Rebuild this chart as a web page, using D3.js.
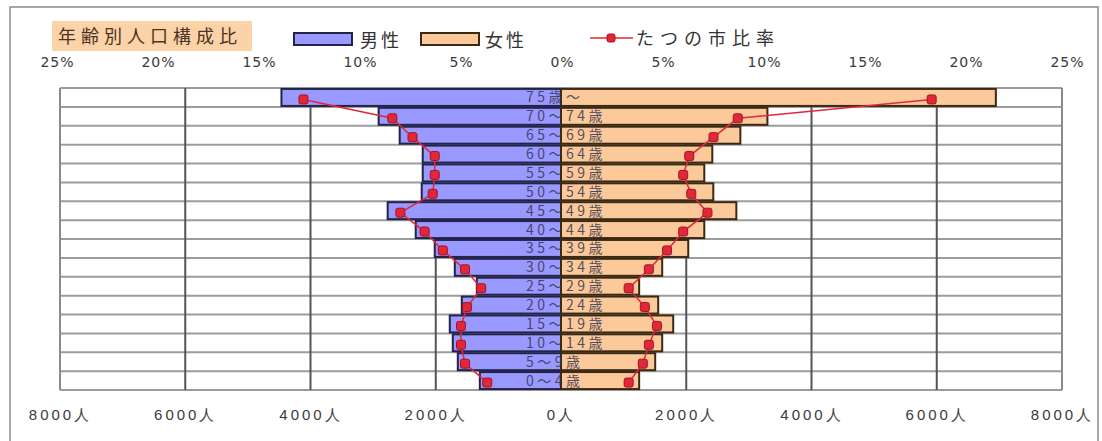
<!DOCTYPE html>
<html><head><meta charset="utf-8">
<script src="https://cdn.jsdelivr.net/npm/d3@7/dist/d3.min.js"></script>
<style>
html,body{margin:0;padding:0;background:#fff;}
svg{display:block;font-family:"Noto Sans CJK JP","Noto Sans",sans-serif;}
</style></head>
<body><svg id="c" width="1102" height="441"></svg>
<script>
const ages = ["75歳～","70～74歳","65～69歳","60～64歳","55～59歳","50～54歳","45～49歳","40～44歳","35～39歳","30～34歳","25～29歳","20～24歳","15～19歳","10～14歳","5～9歳","0～4歳"];
const male   = [4464,2912,2576,2208,2208,2224,2768,2320,2016,1696,1344,1584,1776,1728,1648,1296];
const female = [6944,3296,2864,2416,2288,2432,2800,2288,2032,1616,1248,1552,1792,1616,1504,1248];
const malePct   = [12.8,8.4,7.4,6.3,6.3,6.4,8.0,6.8,5.9,4.8,4.0,4.7,5.0,5.0,4.8,3.7];
const femalePct = [18.3,8.7,7.5,6.3,6.0,6.4,7.2,6.0,5.2,4.3,3.3,4.1,4.7,4.3,4.0,3.3];
const popTicks = [-8000,-6000,-4000,-2000,0,2000,4000,6000,8000];
const pctTicks = [-25,-20,-15,-10,-5,0,5,10,15,20,25];
const title = "年齢別人口構成比";
const legendNames = ["男性","女性","たつの市比率"];

const svg = d3.select("#c");
const X0 = 60, X1 = 1062, Y0 = 88, Y1 = 390;
const x = d3.scaleLinear().domain([-8000, 8000]).range([X0, X1]);
const xp = d3.scaleLinear().domain([-25, 25]).range([57, 1067]);
const y = d3.scaleBand().domain(ages).range([Y0, Y1]).paddingInner(0.1).paddingOuter(0.05);

// outer frame
svg.append("rect").attr("x",10).attr("y",7).attr("width",1088).attr("height",445)
  .attr("fill","none").attr("stroke","#8a8a8a").attr("stroke-width",1.5);

// grid
const g = svg.append("g");
d3.range(ages.length + 1).forEach(i => {
  const yy = Y0 + i * (Y1 - Y0) / ages.length;
  g.append("line").attr("x1",X0).attr("x2",X1).attr("y1",yy).attr("y2",yy)
    .attr("stroke","#9c9c9c").attr("stroke-width",2);
});
popTicks.forEach(t => {
  g.append("line").attr("x1",x(t)).attr("x2",x(t)).attr("y1",Y0).attr("y2",Y1)
    .attr("stroke", (t===-8000||t===8000) ? "#8a8a8a" : "#555").attr("stroke-width",2);
});

// bars
const bars = svg.append("g");
bars.selectAll(".m").data(ages).join("rect")
  .attr("x", (d,i) => x(-male[i])).attr("y", d => y(d))
  .attr("width", (d,i) => x(0) - x(-male[i])).attr("height", y.bandwidth())
  .attr("fill","#9999ff").attr("stroke","#23234a").attr("stroke-width",2);
bars.selectAll(".f").data(ages).join("rect")
  .attr("x", x(0)).attr("y", d => y(d))
  .attr("width", (d,i) => x(female[i]) - x(0)).attr("height", y.bandwidth())
  .attr("fill","#fcc99a").attr("stroke","#3a2a14").attr("stroke-width",2);

// category labels
svg.append("g").selectAll("text").data(ages).join("text")
  .attr("x", 526).attr("y", d => y(d) + y.bandwidth()/2 + 5)
  .attr("font-size", 14).attr("letter-spacing", 3.5)
  .attr("fill", "#35354f").attr("fill-opacity", 0.85)
  .text(d => d);

// ratio lines
const red = "#e0283a";
function drawLine(vals, sign) {
  const pts = vals.map((v,i) => [xp(sign*v), y(ages[i]) + y.bandwidth()/2 + 2]);
  svg.append("path").attr("d", d3.line()(pts)).attr("fill","none")
    .attr("stroke", red).attr("stroke-width", 1.5);
  svg.append("g").selectAll("rect").data(pts).join("rect")
    .attr("x", p => p[0]-4.5).attr("y", p => p[1]-4.5).attr("width",9).attr("height",9)
    .attr("rx",2).attr("fill", red).attr("stroke","#a81020").attr("stroke-width",1);
}
drawLine(malePct, -1);
drawLine(femalePct, 1);

// top axis (percent)
const axTop = d3.axisTop(xp).tickValues(pctTicks).tickSize(0)
  .tickFormat(d => Math.abs(d) + "%");
svg.append("g").attr("transform","translate(0,70)").call(axTop)
  .call(s => s.select(".domain").remove())
  .selectAll("text").attr("font-size",14).attr("letter-spacing",1).attr("fill","#3a3a3a")
  .attr("font-family","\"DejaVu Sans\",sans-serif").attr("dy",0);

// bottom axis (population)
const axBot = d3.axisBottom(x).tickValues(popTicks).tickSize(0)
  .tickFormat(d => Math.abs(d) + "人");
svg.append("g").attr("transform","translate(0,405)").call(axBot)
  .call(s => s.select(".domain").remove())
  .selectAll("text").attr("font-size",15).attr("letter-spacing",3).attr("fill","#3a3a3a")
  .attr("dy","0.8em");

// title box
svg.append("rect").attr("x",52).attr("y",21).attr("width",200).attr("height",30)
  .attr("fill","#fcd2a8");
svg.append("text").attr("x",58).attr("y",43).attr("font-size",18).attr("letter-spacing",5)
  .attr("fill","#4a3422").text(title);

// legend
const lg = svg.append("g");
lg.append("rect").attr("x",294).attr("y",33).attr("width",58).attr("height",12)
  .attr("fill","#9999ff").attr("stroke","#23234a").attr("stroke-width",2);
lg.append("text").attr("x",360).attr("y",47).attr("font-size",18).attr("letter-spacing",3)
  .attr("fill","#333").text(legendNames[0]);
lg.append("rect").attr("x",421).attr("y",33).attr("width",58).attr("height",12)
  .attr("fill","#fcc99a").attr("stroke","#3a2a14").attr("stroke-width",2);
lg.append("text").attr("x",485).attr("y",47).attr("font-size",18).attr("letter-spacing",3)
  .attr("fill","#333").text(legendNames[1]);
lg.append("line").attr("x1",590).attr("x2",633).attr("y1",38).attr("y2",38)
  .attr("stroke",red).attr("stroke-width",1.5);
lg.append("rect").attr("x",607).attr("y",34).attr("width",8).attr("height",8).attr("rx",2)
  .attr("fill",red).attr("stroke","#b01020");
lg.append("text").attr("x",636).attr("y",45).attr("font-size",18).attr("letter-spacing",6)
  .attr("fill","#333").text(legendNames[2]);
</script></body></html>
